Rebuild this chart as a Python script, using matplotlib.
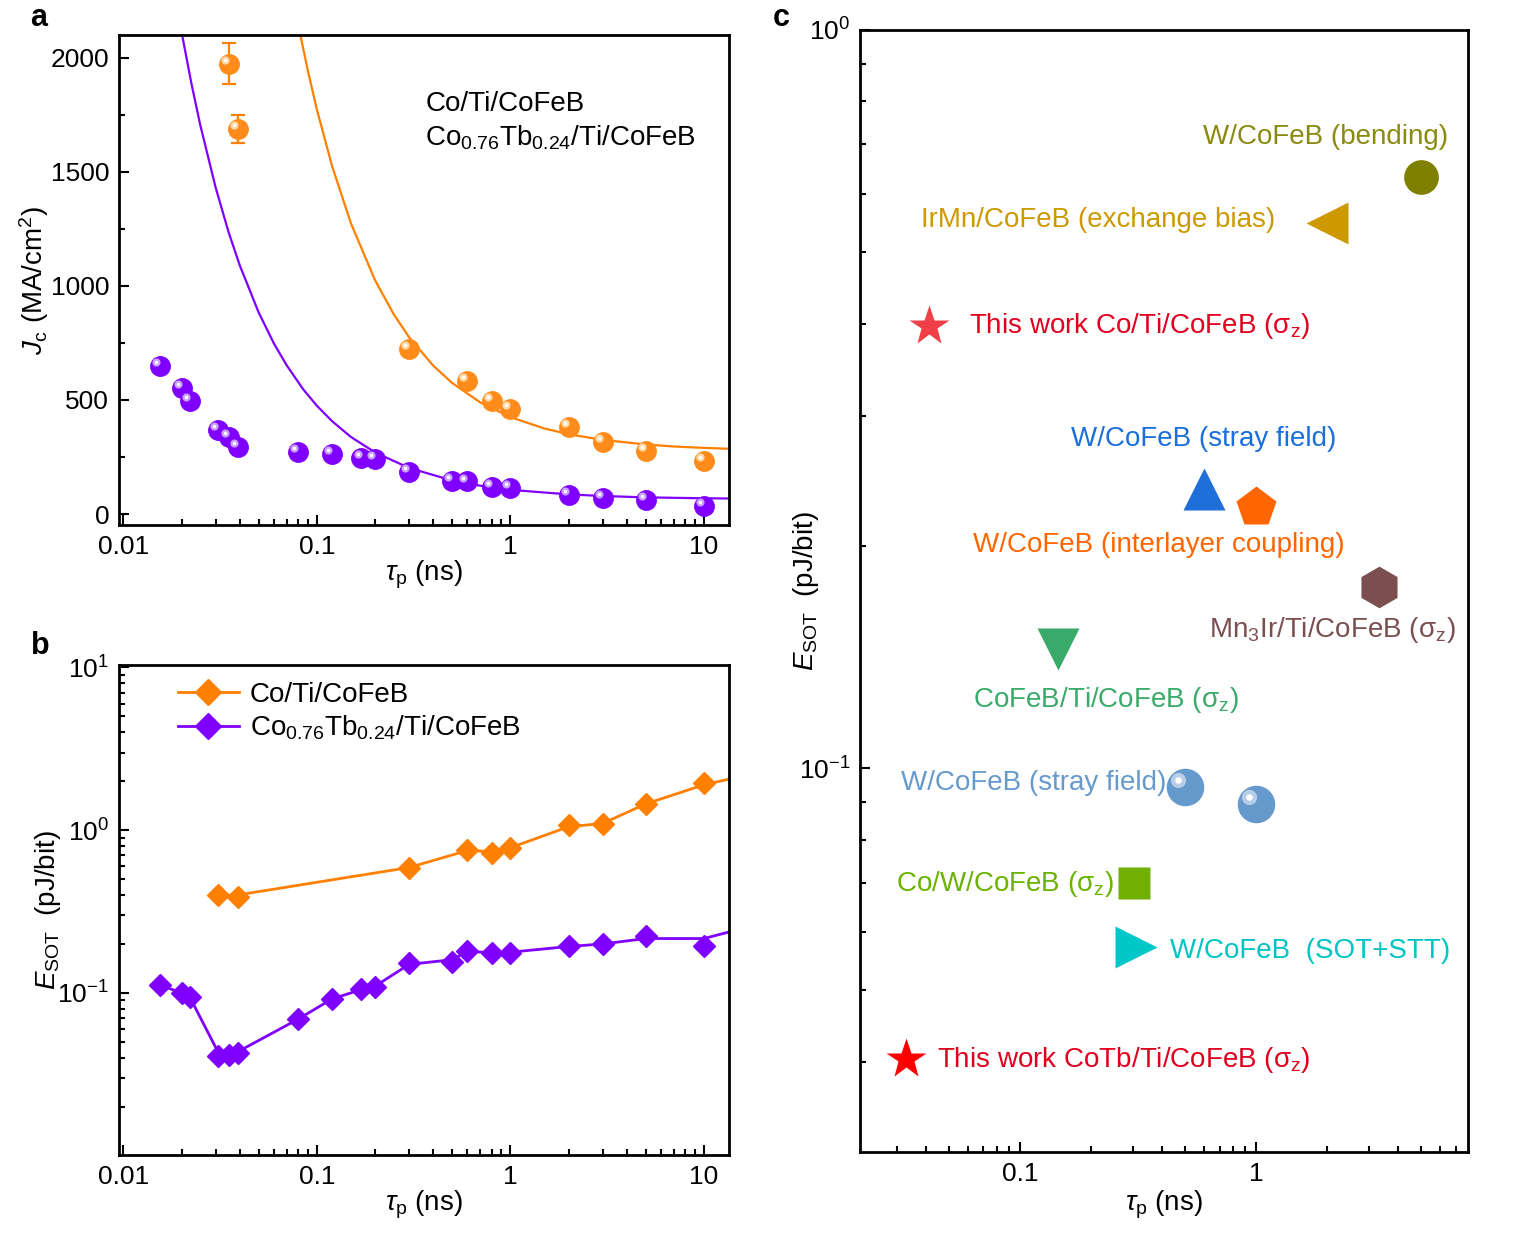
import matplotlib
matplotlib.use("Agg")
import matplotlib.pyplot as plt
from matplotlib import transforms
from matplotlib.lines import Line2D
from matplotlib.ticker import AutoMinorLocator, NullFormatter, MultipleLocator

plt.rcParams['font.family'] = ['Liberation Sans', 'DejaVu Sans']
plt.rcParams['mathtext.fontset'] = 'custom'
plt.rcParams['mathtext.rm'] = 'Liberation Sans'
plt.rcParams['mathtext.it'] = 'Liberation Sans:italic'
plt.rcParams['mathtext.bf'] = 'Liberation Sans:bold'

# ---- panel a : critical current density ----
a_co_x = [0.035, 0.039, 0.3, 0.6, 0.8, 1, 2, 3, 5, 10]
a_co_y = [1975, 1688, 724, 584, 495, 459, 381, 315, 278, 231]
a_co_err_x = [0.035, 0.039]
a_co_err_y = [1975, 1688]
a_co_err = [89, 60]
a_cotb_x = [0.0155, 0.02, 0.022, 0.031, 0.035, 0.039, 0.08, 0.12, 0.17, 0.2,
            0.3, 0.5, 0.6, 0.8, 1, 2, 3, 5, 10]
a_cotb_y = [649, 554, 495, 370, 338, 293, 273, 263, 247, 240,
            184, 146, 143, 120, 114, 83, 70, 60, 34]
# fit curves
fit_co_x = [0.075, 0.081, 0.09, 0.1, 0.12, 0.15, 0.2, 0.25, 0.3, 0.4, 0.5, 0.7,
            1, 1.5, 2, 3, 5, 7, 10, 13.5]
fit_co_y = [2275, 2127, 1942, 1775, 1525, 1275, 1025, 875, 775, 650, 575, 489,
            425, 375, 350, 325, 305, 296, 290, 286]
fit_cotb_x = [0.019, 0.0202, 0.0225, 0.025, 0.03, 0.035, 0.04, 0.05, 0.06, 0.07,
              0.085, 0.1, 0.12, 0.15, 0.2, 0.3, 0.5, 0.7, 1, 2, 3, 5, 10, 13.5]
fit_cotb_y = [2223, 2095, 1887, 1705, 1432, 1236, 1090, 885, 748, 651,
              547, 475, 407, 338, 270, 202, 147, 124, 106, 86, 79, 73, 69, 68]

# ---- panel b : switching energy ----
b_co_x = [0.031, 0.039, 0.3, 0.6, 0.8, 1, 2, 3, 5, 10]
b_co_y = [0.40, 0.39, 0.59, 0.76, 0.72, 0.78, 1.07, 1.09, 1.45, 1.96]
b_co_line_x = [0.031, 0.039, 0.3, 0.6, 0.8, 1, 2, 3, 5, 10, 13.5]
b_co_line_y = [0.40, 0.40, 0.59, 0.75, 0.74, 0.78, 1.05, 1.10, 1.45, 1.90, 2.06]
b_cotb_x = [0.0155, 0.02, 0.022, 0.031, 0.035, 0.039, 0.08, 0.12, 0.17, 0.2,
            0.3, 0.5, 0.6, 0.8, 1, 2, 3, 5, 10]
b_cotb_y = [0.112, 0.100, 0.095, 0.041, 0.0415, 0.0426, 0.069, 0.092, 0.106, 0.109,
            0.153, 0.155, 0.182, 0.175, 0.177, 0.194, 0.200, 0.224, 0.195]
b_cotb_line_x = [0.0155, 0.02, 0.022, 0.031, 0.035, 0.039, 0.08, 0.12, 0.17, 0.2,
                 0.3, 0.5, 0.6, 0.8, 1, 2, 3, 5, 10, 13.5]
b_cotb_line_y = [0.112, 0.100, 0.095, 0.043, 0.043, 0.0435, 0.069, 0.092, 0.105, 0.110,
                 0.150, 0.160, 0.180, 0.177, 0.178, 0.193, 0.200, 0.216, 0.216, 0.237]

labels_ab = ['Co/Ti/CoFeB', r'Co$_{0.76}$Tb$_{0.24}$/Ti/CoFeB']
xticks_ab = [0.01, 0.1, 1, 10]
xticklabels_ab = ['0.01', '0.1', '1', '10']

# ---- panel c : benchmark ----
c_names = ['W/CoFeB (bending)', 'IrMn/CoFeB (exchange bias)',
           r'This work Co/Ti/CoFeB (σ$_\mathrm{z}$)', 'W/CoFeB (stray field)',
           'W/CoFeB (interlayer coupling)', r'Mn$_3$Ir/Ti/CoFeB (σ$_\mathrm{z}$)',
           r'CoFeB/Ti/CoFeB (σ$_\mathrm{z}$)', r'Co/W/CoFeB (σ$_\mathrm{z}$)',
           'W/CoFeB  (SOT+STT)', r'This work CoTb/Ti/CoFeB (σ$_\mathrm{z}$)']
c_x = [5.0, 2.0, 0.041, 0.6, 1.0, 3.3, 0.145, 0.305, 0.31, 0.033]
c_y = [0.633, 0.548, 0.397, 0.239, 0.226, 0.176, 0.145, 0.070, 0.0573, 0.0404]
c_markers = ['o', '<', '*', '^', 'p', 'h', 'v', 's', '>', '*']
c_colors = ['#808000', '#CC9900', '#EE4046', '#1F6FDB', '#FF6600', '#7B4F50',
            '#3AAA6A', '#70B000', '#00C8C8', '#FF0000']
c_text_colors = ['#8A8A10', '#CC9900', '#E0001E', '#1A6FDB', '#FF6600', '#7B4F50',
                 '#3AAA6A', '#6BB300', '#00C4C4', '#E0001E']
sphere_x = [0.5, 1.0]
sphere_y = [0.0942, 0.0894]
sphere_label = 'W/CoFeB (stray field)'
xticks_c = [0.1, 1]
xticklabels_c = ['0.1', '1']

orange = '#FF8C1A'
orange_line = '#FF8000'
purple = '#7F00FF'

FS_TICK = 19
FS_TEXT = 20

fig = plt.figure(figsize=(15.31, 12.51), dpi=100)
ax_a = fig.add_axes([0.0777, 0.580, 0.3985, 0.392])
ax_b = fig.add_axes([0.0777, 0.0767, 0.3985, 0.392])
ax_c = fig.add_axes([0.5617, 0.0791, 0.3972, 0.897])


def style(ax):
    for s in ax.spines.values():
        s.set_linewidth(2)
    ax.tick_params(which='both', direction='in', width=1.5, labelsize=FS_TICK,
                   top=False, right=False)
    ax.tick_params(which='major', length=7, pad=7)
    ax.tick_params(which='minor', length=4)


def spheres(ax, x, y, color, light, ms, z=3):
    ax.plot(x, y, 'o', color=color, mec=color, ms=ms, ls='none', zorder=z)
    tr = transforms.offset_copy(ax.transData, fig=fig, x=-ms * 0.2, y=ms * 0.2,
                                units='points')
    ax.plot(x, y, 'o', color=light, mec='none', ms=ms * 0.42, ls='none',
            transform=tr, zorder=z + 0.1)
    ax.plot(x, y, 'o', color='white', mec='none', ms=ms * 0.18, ls='none',
            transform=tr, zorder=z + 0.2)


# panel a
ax_a.set_xscale('log')
ax_a.plot(fit_co_x, fit_co_y, color=orange_line, lw=1.6, zorder=2)
ax_a.plot(fit_cotb_x, fit_cotb_y, color=purple, lw=1.6, zorder=2)
ax_a.errorbar(a_co_err_x, a_co_err_y, yerr=a_co_err, fmt='none', ecolor=orange_line,
              elinewidth=1.6, capsize=5, capthick=1.6, zorder=2)
spheres(ax_a, a_co_x, a_co_y, orange, '#FFD9A8', 14)
spheres(ax_a, a_cotb_x, a_cotb_y, purple, '#C9A0FF', 14)
ax_a.set_xlim(0.0095, 13.5)
ax_a.set_ylim(-50, 2100)
ax_a.yaxis.set_major_locator(MultipleLocator(500))
ax_a.yaxis.set_minor_locator(AutoMinorLocator(2))
ax_a.set_xticks(xticks_ab)
ax_a.set_xticklabels(xticklabels_ab)
ax_a.xaxis.set_minor_formatter(NullFormatter())
style(ax_a)
ax_a.set_xlabel(r'$\tau_\mathrm{p}$ (ns)', fontsize=FS_TEXT, labelpad=0)
ax_a.set_ylabel(r'$J_\mathrm{c}$ (MA/cm$^2$)', fontsize=FS_TEXT, labelpad=0)
ax_a.text(0.502, 0.86, labels_ab[0], transform=ax_a.transAxes, fontsize=FS_TEXT,
          va='center', ha='left')
ax_a.text(0.502, 0.79, labels_ab[1], transform=ax_a.transAxes, fontsize=FS_TEXT,
          va='center', ha='left')

# panel b
ax_b.set_xscale('log')
ax_b.set_yscale('log')
ax_b.plot(b_co_line_x, b_co_line_y, color=orange_line, lw=2, zorder=2)
ax_b.plot(b_cotb_line_x, b_cotb_line_y, color=purple, lw=2, zorder=2)
ax_b.plot(b_co_x, b_co_y, 'D', color=orange_line, ms=11, ls='none', zorder=3)
ax_b.plot(b_cotb_x, b_cotb_y, 'D', color=purple, ms=11, ls='none', zorder=3)
ax_b.set_xlim(0.0095, 13.5)
ax_b.set_ylim(0.0101, 10.4)
ax_b.set_xticks(xticks_ab)
ax_b.set_xticklabels(xticklabels_ab)
ax_b.xaxis.set_minor_formatter(NullFormatter())
ax_b.yaxis.set_minor_formatter(NullFormatter())
style(ax_b)
ax_b.set_xlabel(r'$\tau_\mathrm{p}$ (ns)', fontsize=FS_TEXT, labelpad=0)
ax_b.set_ylabel(r'$E_\mathrm{SOT}$  (pJ/bit)', fontsize=FS_TEXT, labelpad=-4)
handles = [Line2D([], [], color=orange_line, lw=2, marker='D', ms=13),
           Line2D([], [], color=purple, lw=2, marker='D', ms=13)]
ax_b.legend(handles, labels_ab, loc='upper left', bbox_to_anchor=(0.055, 1.016),
            frameon=False, fontsize=FS_TEXT, handlelength=2.2, handletextpad=0.4,
            labelspacing=0.2)

# panel c
ax_c.set_xscale('log')
ax_c.set_yscale('log')
for i in range(len(c_x)):
    ms = 23 if c_markers[i] == 's' else (25 if c_markers[i] == 'o' else 30)
    ax_c.plot(c_x[i], c_y[i], c_markers[i], color=c_colors[i], mec='none', ms=ms,
              zorder=3)
spheres(ax_c, sphere_x, sphere_y, '#6699CC', '#B8CEE8', 26)
ax_c.set_xlim(0.021, 7.9)
ax_c.set_ylim(0.0302, 1.0)
ax_c.set_xticks(xticks_c)
ax_c.set_xticklabels(xticklabels_c)
ax_c.xaxis.set_minor_formatter(NullFormatter())
ax_c.yaxis.set_minor_formatter(NullFormatter())
style(ax_c)
ax_c.set_xlabel(r'$\tau_\mathrm{p}$ (ns)', fontsize=FS_TEXT, labelpad=2)
ax_c.set_ylabel(r'$E_\mathrm{SOT}$  (pJ/bit)', fontsize=FS_TEXT, labelpad=-16)

txt = dict(fontsize=FS_TEXT, va='center')
ax_c.text(6.51, 0.7155, c_names[0], color=c_text_colors[0], ha='right', **txt)
ax_c.text(1.2, 0.552, c_names[1], color=c_text_colors[1], ha='right', **txt)
ax_c.text(0.0608, 0.397, c_names[2], color=c_text_colors[2], ha='left', **txt)
ax_c.text(0.1645, 0.279, c_names[3], color=c_text_colors[3], ha='left', **txt)
ax_c.text(0.0633, 0.2003, c_names[4], color=c_text_colors[4], ha='left', **txt)
ax_c.text(6.97, 0.154, c_names[5], color=c_text_colors[5], ha='right', **txt)
ax_c.text(0.0633, 0.1237, c_names[6], color=c_text_colors[6], ha='left', **txt)
ax_c.text(0.0313, 0.0954, sphere_label, color='#6699CC', ha='left', **txt)
ax_c.text(0.0298, 0.0696, c_names[7], color=c_text_colors[7], ha='left', **txt)
ax_c.text(0.4326, 0.0566, c_names[8], color=c_text_colors[8], ha='left', **txt)
ax_c.text(0.0445, 0.0403, c_names[9], color=c_text_colors[9], ha='left', **txt)

fig.text(0.020, 0.986, 'a', fontsize=22, fontweight='bold', va='center')
fig.text(0.020, 0.484, 'b', fontsize=22, fontweight='bold', va='center')
fig.text(0.505, 0.986, 'c', fontsize=22, fontweight='bold', va='center')

fig.savefig('out.png', dpi=100)
